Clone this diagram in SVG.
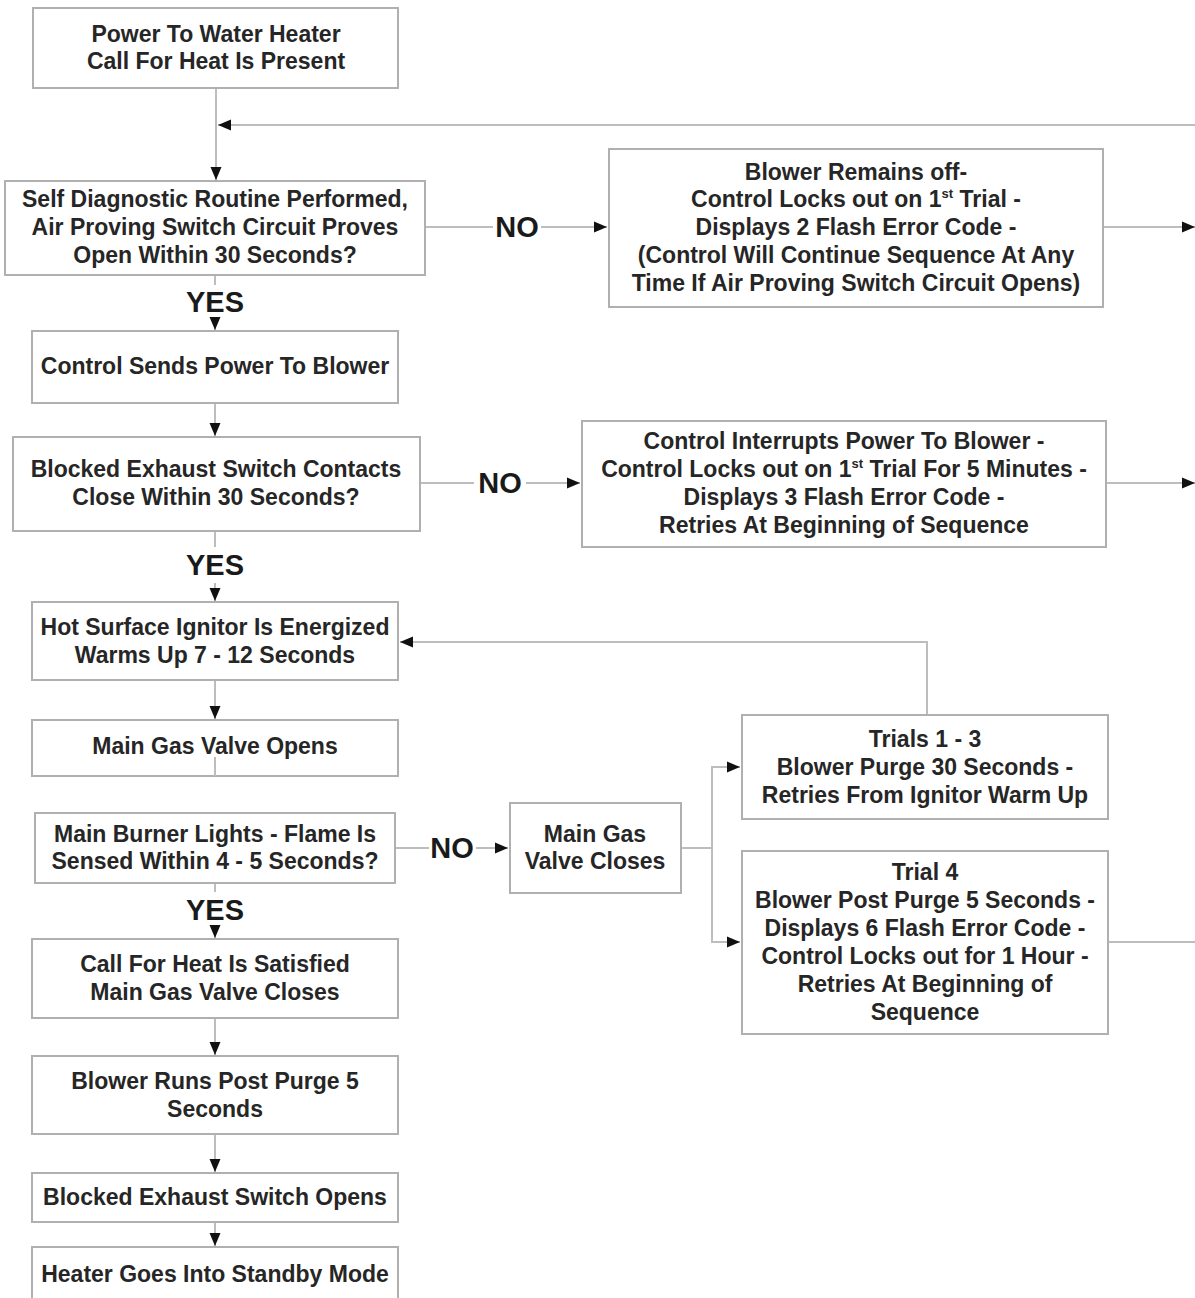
<svg xmlns="http://www.w3.org/2000/svg" width="1195" height="1298" viewBox="0 0 1195 1298">
<style>
.box{fill:#fff;stroke:#b0b0b0;stroke-width:2}
.t{font-family:"Liberation Sans",Arial,sans-serif;font-weight:bold;font-size:23px;fill:#262626;text-anchor:middle}
.lbl{font-family:"Liberation Sans",Arial,sans-serif;font-weight:bold;font-size:29px;fill:#1a1a1a;text-anchor:middle}
.c{fill:none;stroke:#bdbdbd;stroke-width:2}
.sup{font-size:13px}
</style>
<defs>
<marker id="ah" markerUnits="userSpaceOnUse" markerWidth="14" markerHeight="14" viewBox="0 0 14 14" refX="13" refY="7" orient="auto">
<path d="M0,1.5 L13,7 L0,12.5 Z" fill="#111"/>
</marker>
</defs>
<rect width="1195" height="1298" fill="#fff"/>
<g id="connectors">
<path class="c" d="M216,88 V180" marker-end="url(#ah)"/>
<path class="c" d="M1195,125 H218" marker-end="url(#ah)"/>
<path class="c" d="M425,227 H493"/>
<path class="c" d="M541,227 H607" marker-end="url(#ah)"/>
<path class="c" d="M1103,227 H1195" marker-end="url(#ah)"/>
<path class="c" d="M215,275 V285"/>
<path class="c" d="M215,319 V330" marker-end="url(#ah)"/>
<path class="c" d="M215,403 V436" marker-end="url(#ah)"/>
<path class="c" d="M420,483 H474"/>
<path class="c" d="M526,483 H580" marker-end="url(#ah)"/>
<path class="c" d="M1106,483 H1195" marker-end="url(#ah)"/>
<path class="c" d="M215,531 V547"/>
<path class="c" d="M215,583 V601" marker-end="url(#ah)"/>
<path class="c" d="M927,715 V642 H400" marker-end="url(#ah)"/>
<path class="c" d="M215,680 V719" marker-end="url(#ah)"/>
<path class="c" d="M395,848 H429"/>
<path class="c" d="M476,848 H508" marker-end="url(#ah)"/>
<path class="c" d="M681,848 H712"/>
<path class="c" d="M740,767 H712 V942 H740"/>
<path class="c" d="M712,767 H740" marker-end="url(#ah)"/>
<path class="c" d="M712,942 H740" marker-end="url(#ah)"/>
<path class="c" d="M1108,942 H1195"/>
<path class="c" d="M215,883 V892"/>
<path class="c" d="M215,927 V938" marker-end="url(#ah)"/>
<path class="c" d="M215,1018 V1055" marker-end="url(#ah)"/>
<path class="c" d="M215,1134 V1172" marker-end="url(#ah)"/>
<path class="c" d="M215,1222 V1246" marker-end="url(#ah)"/>
<text class="lbl" x="517" y="237">NO</text>
<text class="lbl" x="215" y="312">YES</text>
<text class="lbl" x="500" y="493">NO</text>
<text class="lbl" x="215" y="575">YES</text>
<text class="lbl" x="452" y="858">NO</text>
<text class="lbl" x="215" y="920">YES</text>
</g>
<g id="n1"><rect class="box" x="33" y="8" width="365" height="80"/>
<text class="t" x="216" y="42">Power To Water Heater</text>
<text class="t" x="216" y="69">Call For Heat Is Present</text></g>
<g id="n2"><rect class="box" x="5" y="181" width="420" height="94"/>
<text class="t" x="215" y="207">Self Diagnostic Routine Performed,</text>
<text class="t" x="215" y="235">Air Proving Switch Circuit Proves</text>
<text class="t" x="215" y="263">Open Within 30 Seconds?</text></g>
<g id="n3"><rect class="box" x="609" y="149" width="494" height="158"/>
<text class="t" x="856" y="180">Blower Remains off-</text>
<text class="t" x="856" y="207">Control Locks out on 1<tspan class="sup" dy="-9">st</tspan><tspan dy="9"> Trial -</tspan></text>
<text class="t" x="856" y="235">Displays 2 Flash Error Code -</text>
<text class="t" x="856" y="263">(Control Will Continue Sequence At Any</text>
<text class="t" x="856" y="291">Time If Air Proving Switch Circuit Opens)</text></g>
<g id="n4"><rect class="box" x="32" y="331" width="366" height="72"/>
<text class="t" x="215" y="374">Control Sends Power To Blower</text></g>
<g id="n5"><rect class="box" x="13" y="437" width="407" height="94"/>
<text class="t" x="216" y="477">Blocked Exhaust Switch Contacts</text>
<text class="t" x="216" y="505">Close Within 30 Seconds?</text></g>
<g id="n6"><rect class="box" x="582" y="421" width="524" height="126"/>
<text class="t" x="844" y="449">Control Interrupts Power To Blower -</text>
<text class="t" x="844" y="477">Control Locks out on 1<tspan class="sup" dy="-9">st</tspan><tspan dy="9"> Trial For 5 Minutes -</tspan></text>
<text class="t" x="844" y="505">Displays 3 Flash Error Code -</text>
<text class="t" x="844" y="533">Retries At Beginning of Sequence</text></g>
<g id="n7"><rect class="box" x="32" y="602" width="366" height="78"/>
<text class="t" x="215" y="635">Hot Surface Ignitor Is Energized</text>
<text class="t" x="215" y="663">Warms Up 7 - 12 Seconds</text></g>
<g id="n8"><rect class="box" x="32" y="720" width="366" height="56"/>
<text class="t" x="215" y="754">Main Gas Valve Opens</text>
<path class="c" d="M215,757 V776"/></g>
<g id="n9"><rect class="box" x="35" y="813" width="360" height="70"/>
<text class="t" x="215" y="842">Main Burner Lights - Flame Is</text>
<text class="t" x="215" y="869">Sensed Within 4 - 5 Seconds?</text></g>
<g id="n10"><rect class="box" x="510" y="803" width="171" height="90"/>
<text class="t" x="595" y="842">Main Gas</text>
<text class="t" x="595" y="869">Valve Closes</text></g>
<g id="n11"><rect class="box" x="742" y="715" width="366" height="104"/>
<text class="t" x="925" y="747">Trials 1 - 3</text>
<text class="t" x="925" y="775">Blower Purge 30 Seconds -</text>
<text class="t" x="925" y="803">Retries From Ignitor Warm Up</text></g>
<g id="n12"><rect class="box" x="742" y="851" width="366" height="183"/>
<text class="t" x="925" y="880">Trial 4</text>
<text class="t" x="925" y="908">Blower Post Purge 5 Seconds -</text>
<text class="t" x="925" y="936">Displays 6 Flash Error Code -</text>
<text class="t" x="925" y="964">Control Locks out for 1 Hour -</text>
<text class="t" x="925" y="992">Retries At Beginning of</text>
<text class="t" x="925" y="1020">Sequence</text></g>
<g id="n13"><rect class="box" x="32" y="939" width="366" height="79"/>
<text class="t" x="215" y="972">Call For Heat Is Satisfied</text>
<text class="t" x="215" y="1000">Main Gas Valve Closes</text></g>
<g id="n14"><rect class="box" x="32" y="1056" width="366" height="78"/>
<text class="t" x="215" y="1089">Blower Runs Post Purge 5</text>
<text class="t" x="215" y="1117">Seconds</text></g>
<g id="n15"><rect class="box" x="32" y="1173" width="366" height="49"/>
<text class="t" x="215" y="1205">Blocked Exhaust Switch Opens</text></g>
<g id="n16"><rect class="box" x="32" y="1247" width="366" height="60"/>
<text class="t" x="215" y="1282">Heater Goes Into Standby Mode</text></g>
</svg>
